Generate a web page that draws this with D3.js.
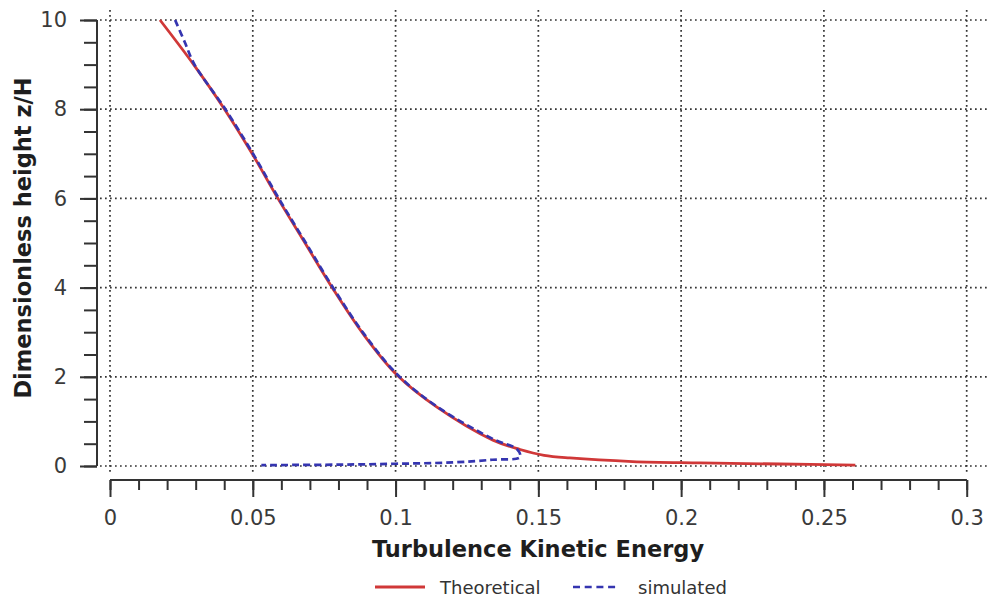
<!DOCTYPE html>
<html>
<head>
<meta charset="utf-8">
<script src="https://cdn.jsdelivr.net/npm/d3@7"></script>
<style>
  html, body { margin: 0; padding: 0; background: #ffffff; }
  svg { display: block; }
</style>
</head>
<body>
<svg id="chart" width="990" height="603"></svg>
<script>
// ---- data ----
const xTicks = [0, 0.05, 0.1, 0.15, 0.2, 0.25, 0.3];
const xTickLabels = ["0", "0.05", "0.1", "0.15", "0.2", "0.25", "0.3"];
const yTicks = [0, 2, 4, 6, 8, 10];
const yTickLabels = ["0", "2", "4", "6", "8", "10"];

const theoreticalX = [0.0175, 0.0293, 0.0401, 0.0498, 0.0588, 0.0683, 0.0781, 0.0889, 0.1005, 0.1145, 0.1341, 0.1436, 0.152, 0.161, 0.183, 0.2066, 0.2346, 0.261];
const theoreticalY = [10.0, 9.0, 8.0, 7.0, 6.0, 5.0, 3.97, 2.94, 2.04, 1.32, 0.58, 0.37, 0.24, 0.18, 0.1, 0.07, 0.045, 0.02];

const simulatedX = [0.0228, 0.0262, 0.0296, 0.0404, 0.0501, 0.0591, 0.0686, 0.0784, 0.0892, 0.1008, 0.1148, 0.1343, 0.1425, 0.1436, 0.134, 0.12, 0.10, 0.08, 0.053];
const simulatedY = [10.0, 9.5, 9.0, 8.0, 7.0, 6.0, 5.0, 3.97, 2.94, 2.04, 1.32, 0.6, 0.38, 0.2, 0.14, 0.08, 0.05, 0.03, 0.02];

const seriesNames = ["Theoretical", "simulated"];
const seriesColors = ["#d03838", "#3535b0"];

// ---- layout ----
const svg = d3.select("#chart");
const W = 990, H = 603;
const x = d3.scaleLinear().domain([0, 0.3]).range([110, 966.7]);
const y = d3.scaleLinear().domain([0, 10]).range([466, 20]);
const yAxisX = 97;
const xAxisY = 480;
const font = "'DejaVu Sans', Verdana, sans-serif";
const axisColor = "#333333";

// grid (dotted)
const grid = svg.append("g");
grid.selectAll("line.h").data(yTicks).join("line")
  .attr("x1", x(0) - 10).attr("x2", W)
  .attr("y1", d => y(d)).attr("y2", d => y(d))
  .attr("stroke", "#333").attr("stroke-width", 1.7)
  .attr("stroke-dasharray", "1.7,3.3");
grid.selectAll("line.v").data(xTicks).join("line")
  .attr("x1", d => x(d)).attr("x2", d => x(d))
  .attr("y1", y(10) - 10).attr("y2", y(0) + 7)
  .attr("stroke", "#333").attr("stroke-width", 1.7)
  .attr("stroke-dasharray", "1.7,3.3");

// y axis
const yMinor = d3.range(0, 10.01, 0.5);
const yAxisMinor = d3.axisLeft(y).tickValues(yMinor).tickSize(13).tickFormat("");
const yAxisMajor = d3.axisLeft(y).tickValues(yTicks).tickSize(17).tickFormat((d, i) => yTickLabels[i]).tickPadding(13);
const gyMin = svg.append("g").attr("transform", `translate(${yAxisX},0)`).call(yAxisMinor);
const gy = svg.append("g").attr("transform", `translate(${yAxisX},0)`).call(yAxisMajor);
[gyMin, gy].forEach(g => {
  g.select(".domain").attr("stroke", axisColor).attr("stroke-width", 2).attr("d", `M0,${y(0)}V${y(10)}`);
  g.selectAll(".tick line").attr("stroke", axisColor).attr("stroke-width", 2);
});
gy.selectAll(".tick text").attr("fill", "#3a3a3a").style("font-family", font).style("font-size", "21px");

// x axis
const xMinor = d3.range(0, 0.3001, 0.01);
const xAxisMinor = d3.axisBottom(x).tickValues(xMinor).tickSize(10).tickFormat("");
const xAxisMajor = d3.axisBottom(x).tickValues(xTicks).tickSize(17).tickFormat((d, i) => xTickLabels[i]).tickPadding(13);
const gxMin = svg.append("g").attr("transform", `translate(0,${xAxisY})`).call(xAxisMinor);
const gx = svg.append("g").attr("transform", `translate(0,${xAxisY})`).call(xAxisMajor);
[gxMin, gx].forEach(g => {
  g.select(".domain").attr("stroke", axisColor).attr("stroke-width", 2).attr("d", `M${x(0)},0H${x(0.3)}`);
  g.selectAll(".tick line").attr("stroke", axisColor).attr("stroke-width", 2);
});
gx.selectAll(".tick text").attr("fill", "#3a3a3a").style("font-family", font).style("font-size", "21px");

// axis titles
svg.append("text")
  .attr("x", 538).attr("y", 557)
  .attr("text-anchor", "middle")
  .style("font-family", font).style("font-size", "22.5px").style("font-weight", "bold")
  .attr("fill", "#1e1e1e")
  .text("Turbulence Kinetic Energy");
svg.append("text")
  .attr("transform", "translate(31,238) rotate(-90)")
  .attr("text-anchor", "middle")
  .style("font-family", font).style("font-size", "22.5px").style("font-weight", "bold")
  .attr("fill", "#1e1e1e")
  .text("Dimensionless height z/H");

// lines
const theo = theoreticalX.map((v, i) => [v, theoreticalY[i]]);
const sim = simulatedX.map((v, i) => [v, simulatedY[i]]);
const line = d3.line().x(d => x(d[0])).y(d => y(d[1])).curve(d3.curveCatmullRom.alpha(0.5));

svg.append("path").datum(theo)
  .attr("d", line).attr("fill", "none")
  .attr("stroke", seriesColors[0]).attr("stroke-width", 2.8);
svg.append("path").datum(sim)
  .attr("d", line).attr("fill", "none")
  .attr("stroke", seriesColors[1]).attr("stroke-width", 2.7)
  .attr("stroke-dasharray", "7,4");

// legend
const leg = svg.append("g");
leg.append("line").attr("x1", 375).attr("x2", 425).attr("y1", 587).attr("y2", 587)
  .attr("stroke", seriesColors[0]).attr("stroke-width", 2.8);
leg.append("text").attr("x", 440).attr("y", 587).attr("dominant-baseline", "central")
  .style("font-family", font).style("font-size", "18px").attr("fill", "#333")
  .text(seriesNames[0]);
leg.append("line").attr("x1", 573).attr("x2", 618).attr("y1", 587).attr("y2", 587)
  .attr("stroke", seriesColors[1]).attr("stroke-width", 2.7).attr("stroke-dasharray", "7,4.7");
leg.append("text").attr("x", 638).attr("y", 587).attr("dominant-baseline", "central")
  .style("font-family", font).style("font-size", "18px").attr("fill", "#333")
  .text(seriesNames[1]);
</script>
</body>
</html>
